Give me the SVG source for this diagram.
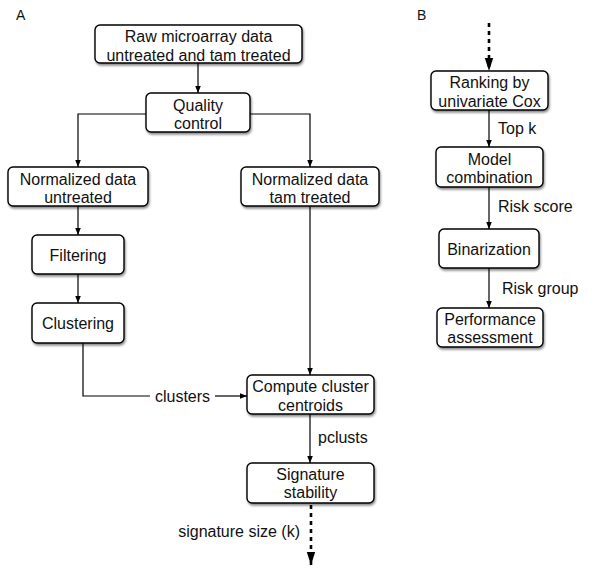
<svg xmlns="http://www.w3.org/2000/svg" width="600" height="573" viewBox="0 0 600 573">
<style>
  .box { fill: #ffffff; stroke: #000000; stroke-width: 1.4; filter: url(#shadow); }
  .t { font-family: "Liberation Sans", Arial, sans-serif; font-size: 16px; fill: #111111; text-anchor: middle; }
  .lbl { font-family: "Liberation Sans", Arial, sans-serif; font-size: 16px; fill: #111111; }
  .panel { font-family: "Liberation Sans", Arial, sans-serif; font-size: 14px; fill: #111111; }
  .line { fill: none; stroke: #000000; stroke-width: 1.2; }
  .arrow { marker-end: url(#ah); }
  .dot { fill: none; stroke: #000000; stroke-width: 2.6; stroke-dasharray: 4 4; marker-end: url(#bigah); }
</style>
<defs>
  <filter id="shadow" x="-10%" y="-10%" width="130%" height="140%">
    <feDropShadow dx="1" dy="2" stdDeviation="1.3" flood-color="#000000" flood-opacity="0.45"/>
  </filter>
  <marker id="ah" markerUnits="userSpaceOnUse" markerWidth="8" markerHeight="8" viewBox="0 0 8 8" refX="7" refY="4" orient="auto">
    <path d="M0,1.2 L7,4 L0,6.8 Z" fill="#000000"/>
  </marker>
  <marker id="bigah" markerUnits="userSpaceOnUse" markerWidth="14" markerHeight="10" viewBox="0 0 14 10" refX="13" refY="5" orient="auto">
    <path d="M0,0.8 L13,5 L0,9.2 Z" fill="#000000"/>
  </marker>
</defs>

<text class="panel" x="16" y="20">A</text>
<text class="panel" x="417" y="20">B</text>

<g id="connectors">
  <path class="line arrow" d="M198,63 V93"/>
  <path class="line arrow" d="M146,114 H78 V167"/>
  <path class="line arrow" d="M250,114 H310 V167"/>
  <path class="line arrow" d="M78,206 V235"/>
  <path class="line arrow" d="M78,274 V303"/>
  <path class="line" d="M83,343 V396 H150"/>
  <path class="line arrow" d="M215,396 H247"/>
  <text class="lbl" x="182.5" y="402" text-anchor="middle">clusters</text>
  <path class="line arrow" d="M310,206 V375"/>
  <path class="line arrow" d="M310,414 V463"/>
  <text class="lbl" x="318" y="443">pclusts</text>
  <path class="dot" d="M311,505 V565"/>
  <text class="lbl" x="300" y="537" text-anchor="end">signature size (k)</text>

  <path class="dot" d="M489,23 V71"/>
  <path class="line arrow" d="M489,110 V147"/>
  <text class="lbl" x="498" y="134">Top k</text>
  <path class="line arrow" d="M489,187 V229"/>
  <text class="lbl" x="498" y="212">Risk score</text>
  <path class="line arrow" d="M489,268 V308"/>
  <text class="lbl" x="502" y="294">Risk group</text>
</g>

<g id="raw">
  <rect class="box" x="95" y="25" width="207" height="38" rx="5"/>
  <text class="t" x="198.5" y="42">Raw microarray data</text>
  <text class="t" x="198.5" y="61">untreated and tam treated</text>
</g>
<g id="quality">
  <rect class="box" x="146" y="93" width="104" height="39" rx="5"/>
  <text class="t" x="198" y="111">Quality</text>
  <text class="t" x="198" y="129">control</text>
</g>
<g id="norm-untreated">
  <rect class="box" x="8" y="167" width="140" height="39" rx="5"/>
  <text class="t" x="78" y="184.5">Normalized data</text>
  <text class="t" x="78" y="203">untreated</text>
</g>
<g id="norm-tam">
  <rect class="box" x="241" y="167" width="138" height="39" rx="5"/>
  <text class="t" x="310" y="184.5">Normalized data</text>
  <text class="t" x="310" y="203">tam treated</text>
</g>
<g id="filtering">
  <rect class="box" x="32" y="235" width="92" height="39" rx="5"/>
  <text class="t" x="78" y="261">Filtering</text>
</g>
<g id="clustering">
  <rect class="box" x="32" y="303" width="92" height="40" rx="5"/>
  <text class="t" x="78" y="329">Clustering</text>
</g>
<g id="centroids">
  <rect class="box" x="247" y="375" width="127" height="39" rx="5"/>
  <text class="t" x="310.5" y="392">Compute cluster</text>
  <text class="t" x="310.5" y="410.5">centroids</text>
</g>
<g id="signature">
  <rect class="box" x="247" y="463" width="127" height="40" rx="5"/>
  <text class="t" x="310.5" y="480">Signature</text>
  <text class="t" x="310.5" y="498">stability</text>
</g>
<g id="ranking">
  <rect class="box" x="431" y="71" width="117" height="39" rx="5"/>
  <text class="t" x="489.5" y="88">Ranking by</text>
  <text class="t" x="489.5" y="106.5">univariate Cox</text>
</g>
<g id="model">
  <rect class="box" x="436" y="147" width="107" height="40" rx="5"/>
  <text class="t" x="489.5" y="165">Model</text>
  <text class="t" x="489.5" y="183">combination</text>
</g>
<g id="binarization">
  <rect class="box" x="439" y="229" width="100" height="39" rx="5"/>
  <text class="t" x="489" y="255">Binarization</text>
</g>
<g id="performance">
  <rect class="box" x="437" y="308" width="106" height="39" rx="5"/>
  <text class="t" x="490" y="325">Performance</text>
  <text class="t" x="490" y="343">assessment</text>
</g>
</svg>
